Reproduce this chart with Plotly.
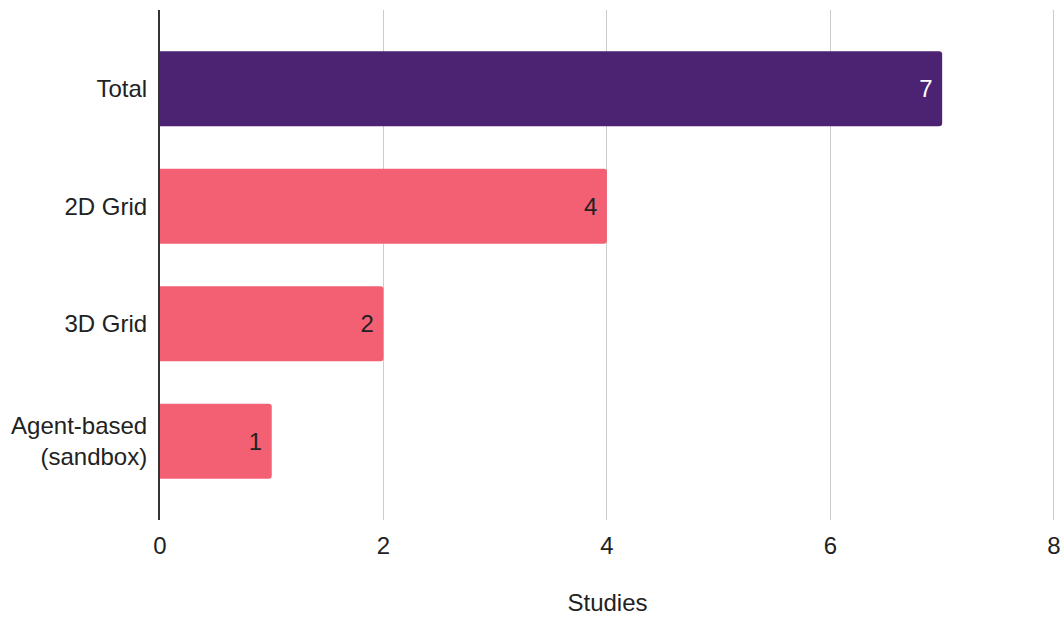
import plotly.graph_objects as go

# Study counts per environment type
categories = ["Total", "2D Grid", "3D Grid", "Agent-based<br>(sandbox)"]
studies = [7, 4, 2, 1]
bar_colors = ["#4C2272", "#F36074", "#F36074", "#F36074"]
label_colors = ["#FFFFFF", "#222222", "#222222", "#222222"]
x_ticks = [0, 2, 4, 6, 8]

font_family = "Arial, 'Liberation Sans', sans-serif"

fig = go.Figure(
    go.Bar(
        x=studies,
        y=categories,
        orientation="h",
        marker=dict(color=bar_colors, line=dict(width=0)),
        # a non-breaking space keeps the value clear of the bar end
        text=[f"{v}\u00a0" for v in studies],
        textposition="inside",
        insidetextanchor="end",
        constraintext="none",
        textfont=dict(family=font_family, size=24, color=label_colors),
        width=0.64,
        hoverinfo="skip",
    )
)

fig.update_layout(
    width=1063,
    height=619,
    margin=dict(l=160, r=8, t=10, b=99),
    paper_bgcolor="white",
    plot_bgcolor="white",
    barcornerradius=3,
    showlegend=False,
    font=dict(family=font_family, size=24, color="#222222"),
)

fig.update_xaxes(
    range=[0, 8.01],
    tickvals=x_ticks,
    automargin=False,
    showgrid=True,
    gridcolor="#CCCCCC",
    gridwidth=1,
    zeroline=False,
    showline=False,
    ticks="",
    ticklabelstandoff=9,
    tickfont=dict(size=24, color="#222222"),
    title=dict(text="Studies", font=dict(size=24, color="#222222"), standoff=36),
)

fig.update_yaxes(
    categoryorder="array",
    categoryarray=categories,
    range=[3.67, -0.67],
    automargin=False,
    showgrid=False,
    zeroline=False,
    showline=True,
    linecolor="#333333",
    linewidth=2,
    ticks="",
    ticklabelstandoff=6,
    tickfont=dict(size=24, color="#222222"),
)

fig.write_html("out.html")
